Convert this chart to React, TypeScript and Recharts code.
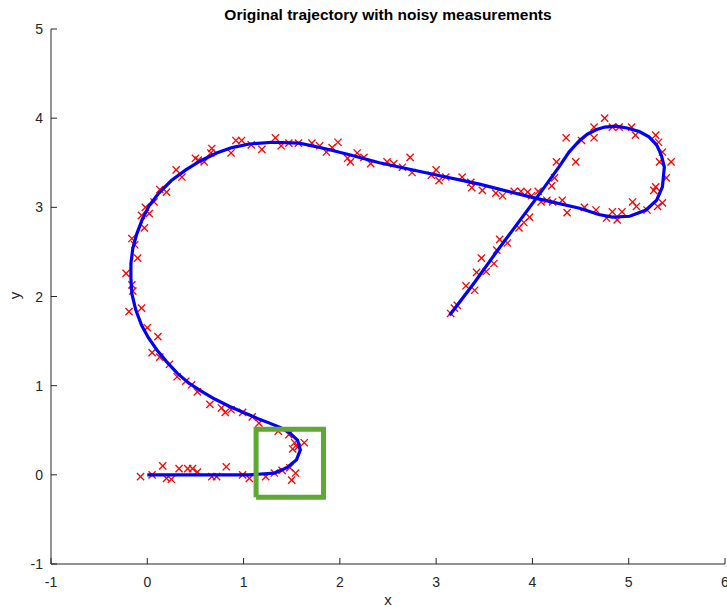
import React from 'react';
import { ScatterChart, Scatter, XAxis, YAxis } from 'recharts';

interface Pt {
  x: number;
  y: number;
}

const xTicks = [-1, 0, 1, 2, 3, 4, 5, 6];
const yTicks = [-1, 0, 1, 2, 3, 4, 5];

// true path (blue)
const trajectory: Pt[] = [
  { x: 0, y: 0 }, { x: 0.54, y: 0 }, { x: 1.06, y: 0 }, { x: 1.32, y: 0.02 },
  { x: 1.45, y: 0.08 }, { x: 1.55, y: 0.17 }, { x: 1.59, y: 0.28 }, { x: 1.56, y: 0.39 },
  { x: 1.47, y: 0.48 }, { x: 1.38, y: 0.53 }, { x: 1.27, y: 0.58 }, { x: 1.15, y: 0.63 },
  { x: 1.0, y: 0.7 }, { x: 0.85, y: 0.77 }, { x: 0.7, y: 0.85 }, { x: 0.56, y: 0.94 },
  { x: 0.43, y: 1.03 }, { x: 0.31, y: 1.14 }, { x: 0.2, y: 1.27 }, { x: 0.1, y: 1.4 },
  { x: 0.01, y: 1.54 }, { x: -0.06, y: 1.68 }, { x: -0.12, y: 1.85 }, { x: -0.16, y: 2.03 },
  { x: -0.17, y: 2.2 }, { x: -0.17, y: 2.37 }, { x: -0.15, y: 2.54 }, { x: -0.11, y: 2.7 },
  { x: -0.05, y: 2.87 }, { x: 0.02, y: 3.02 }, { x: 0.12, y: 3.16 }, { x: 0.25, y: 3.3 },
  { x: 0.4, y: 3.42 }, { x: 0.55, y: 3.52 }, { x: 0.72, y: 3.61 }, { x: 0.88, y: 3.67 },
  { x: 1.06, y: 3.71 }, { x: 1.3, y: 3.73 }, { x: 1.58, y: 3.72 }, { x: 1.84, y: 3.66 },
  { x: 2.1, y: 3.59 }, { x: 2.41, y: 3.5 }, { x: 2.93, y: 3.38 }, { x: 3.45, y: 3.26 },
  { x: 4.04, y: 3.1 }, { x: 4.49, y: 2.99 }, { x: 4.69, y: 2.92 }, { x: 4.83, y: 2.89 },
  { x: 5.01, y: 2.9 }, { x: 5.18, y: 2.97 }, { x: 5.29, y: 3.08 }, { x: 5.35, y: 3.23 },
  { x: 5.37, y: 3.45 }, { x: 5.34, y: 3.58 }, { x: 5.29, y: 3.7 }, { x: 5.21, y: 3.79 },
  { x: 5.11, y: 3.85 }, { x: 4.98, y: 3.89 }, { x: 4.87, y: 3.91 }, { x: 4.75, y: 3.9 },
  { x: 4.66, y: 3.87 }, { x: 4.57, y: 3.82 }, { x: 4.49, y: 3.75 }, { x: 4.38, y: 3.62 },
  { x: 4.28, y: 3.46 }, { x: 4.04, y: 3.1 }, { x: 3.66, y: 2.55 }, { x: 3.4, y: 2.16 },
  { x: 3.14, y: 1.79 },
];

// noisy measurements (red x)
const measurements: Pt[] = [
  { x: -0.07, y: -0.02 }, { x: 0.05, y: 0 }, { x: 0.16, y: 0.1 }, { x: 0.2, y: -0.04 },
  { x: 0.25, y: -0.05 }, { x: 0.33, y: 0.07 }, { x: 0.42, y: 0.07 }, { x: 0.47, y: 0.07 },
  { x: 0.52, y: 0.03 }, { x: 0.67, y: -0.02 }, { x: 0.72, y: -0.02 }, { x: 0.82, y: 0.09 },
  { x: 0.99, y: 0 }, { x: 1.06, y: -0.04 }, { x: 1.23, y: -0.02 }, { x: 1.32, y: 0.02 },
  { x: 1.4, y: 0.05 }, { x: 1.48, y: 0.08 }, { x: 1.54, y: 0.02 }, { x: 1.5, y: -0.06 },
  { x: 1.51, y: 0.29 }, { x: 1.56, y: 0.31 }, { x: 1.53, y: 0.36 }, { x: 1.63, y: 0.36 },
  { x: 1.47, y: 0.45 }, { x: 1.36, y: 0.49 }, { x: 1.16, y: 0.58 }, { x: 1.09, y: 0.65 },
  { x: 0.99, y: 0.7 }, { x: 0.87, y: 0.73 }, { x: 0.81, y: 0.7 }, { x: 0.77, y: 0.75 },
  { x: 0.65, y: 0.79 }, { x: 0.52, y: 0.93 }, { x: 0.46, y: 1.01 }, { x: 0.4, y: 1.05 },
  { x: 0.31, y: 1.1 }, { x: 0.23, y: 1.24 }, { x: 0.13, y: 1.32 }, { x: 0.05, y: 1.37 },
  { x: 0.11, y: 1.55 }, { x: 0, y: 1.65 }, { x: -0.06, y: 1.87 }, { x: -0.19, y: 1.83 },
  { x: -0.15, y: 2.06 }, { x: -0.16, y: 2.13 }, { x: -0.22, y: 2.26 }, { x: -0.1, y: 2.43 },
  { x: -0.13, y: 2.58 }, { x: -0.16, y: 2.65 }, { x: -0.03, y: 2.77 }, { x: -0.06, y: 2.91 },
  { x: 0.02, y: 2.93 }, { x: -0.02, y: 3 }, { x: 0.07, y: 3.06 }, { x: 0.13, y: 3.2 },
  { x: 0.2, y: 3.17 }, { x: 0.3, y: 3.42 }, { x: 0.36, y: 3.34 }, { x: 0.5, y: 3.55 },
  { x: 0.53, y: 3.53 }, { x: 0.59, y: 3.51 }, { x: 0.66, y: 3.61 }, { x: 0.67, y: 3.66 },
  { x: 0.87, y: 3.61 }, { x: 0.92, y: 3.75 }, { x: 0.98, y: 3.75 }, { x: 1.08, y: 3.7 },
  { x: 1.19, y: 3.65 }, { x: 1.33, y: 3.78 }, { x: 1.39, y: 3.69 }, { x: 1.47, y: 3.72 },
  { x: 1.57, y: 3.72 }, { x: 1.71, y: 3.72 }, { x: 1.79, y: 3.69 }, { x: 1.86, y: 3.62 },
  { x: 1.92, y: 3.67 }, { x: 1.98, y: 3.73 }, { x: 2.08, y: 3.55 }, { x: 2.11, y: 3.51 },
  { x: 2.18, y: 3.61 }, { x: 2.25, y: 3.56 }, { x: 2.32, y: 3.49 }, { x: 2.49, y: 3.51 },
  { x: 2.56, y: 3.49 }, { x: 2.73, y: 3.56 }, { x: 2.65, y: 3.45 }, { x: 2.75, y: 3.39 },
  { x: 2.95, y: 3.36 }, { x: 3, y: 3.42 }, { x: 3.03, y: 3.3 }, { x: 3.1, y: 3.34 },
  { x: 3.27, y: 3.34 }, { x: 3.36, y: 3.28 }, { x: 3.37, y: 3.22 }, { x: 3.48, y: 3.19 },
  { x: 3.62, y: 3.16 }, { x: 3.69, y: 3.13 }, { x: 3.81, y: 3.18 }, { x: 3.88, y: 3.18 },
  { x: 3.95, y: 3.17 }, { x: 3.99, y: 3.13 }, { x: 4.06, y: 3.18 }, { x: 4.09, y: 3.06 },
  { x: 4.15, y: 3.08 }, { x: 4.21, y: 3.06 }, { x: 4.31, y: 3.08 }, { x: 4.36, y: 2.94 },
  { x: 4.66, y: 2.97 }, { x: 4.54, y: 3 }, { x: 4.77, y: 2.88 }, { x: 4.83, y: 2.95 },
  { x: 4.88, y: 2.86 }, { x: 4.93, y: 2.95 }, { x: 5.04, y: 3.06 }, { x: 5.08, y: 3.01 },
  { x: 5.19, y: 2.97 }, { x: 5.3, y: 3.01 }, { x: 5.35, y: 3.05 }, { x: 5.26, y: 3.19 },
  { x: 5.28, y: 3.23 }, { x: 5.39, y: 3.33 }, { x: 5.32, y: 3.51 }, { x: 5.44, y: 3.51 },
  { x: 5.35, y: 3.62 }, { x: 5.31, y: 3.73 }, { x: 5.28, y: 3.81 }, { x: 5.07, y: 3.81 },
  { x: 5.03, y: 3.9 }, { x: 4.9, y: 3.9 }, { x: 4.83, y: 3.9 }, { x: 4.75, y: 4 },
  { x: 4.64, y: 3.9 }, { x: 4.64, y: 3.78 }, { x: 4.51, y: 3.75 }, { x: 4.35, y: 3.78 },
  { x: 4.45, y: 3.51 }, { x: 4.25, y: 3.51 }, { x: 4.23, y: 3.33 }, { x: 4.2, y: 3.24 },
  { x: 3.97, y: 2.89 }, { x: 3.91, y: 2.83 }, { x: 3.86, y: 2.77 }, { x: 3.66, y: 2.64 },
  { x: 3.74, y: 2.6 }, { x: 3.63, y: 2.52 }, { x: 3.47, y: 2.43 }, { x: 3.6, y: 2.37 },
  { x: 3.42, y: 2.27 }, { x: 3.52, y: 2.28 }, { x: 3.31, y: 2.12 }, { x: 3.4, y: 2.07 },
  { x: 3.22, y: 1.9 }, { x: 3.19, y: 1.87 }, { x: 3.15, y: 1.81 },
];

// green highlight box
const highlightBox: Pt[] = [
  { x: 1.13, y: -0.25 }, { x: 1.83, y: -0.25 }, { x: 1.83, y: 0.51 },
  { x: 1.13, y: 0.51 }, { x: 1.13, y: -0.25 },
];

const FONT = '"Liberation Sans", Arial, Helvetica, sans-serif';
const AXIS = '#262626';

const Cross = (props: any) => {
  const { cx, cy } = props;
  const r = 3.6;
  return (
    <g stroke="#ff0000" strokeWidth={1.3}>
      <line x1={cx - r} y1={cy - r} x2={cx + r} y2={cy + r} />
      <line x1={cx - r} y1={cy + r} x2={cx + r} y2={cy - r} />
    </g>
  );
};

const NoDot = () => <g />;

const XTick = (props: any) => {
  const { x, y, payload } = props;
  return (
    <g>
      <line x1={x} y1={y} x2={x} y2={y - 6} stroke={AXIS} strokeWidth={1} />
      <text x={x} y={y + 23} textAnchor="middle" fill={AXIS} fontSize={14} fontFamily={FONT}>
        {payload.value}
      </text>
    </g>
  );
};

const YTick = (props: any) => {
  const { x, y, payload } = props;
  return (
    <g>
      <line x1={x} y1={y} x2={x + 6} y2={y} stroke={AXIS} strokeWidth={1} />
      <text x={x - 8} y={y + 5} textAnchor="end" fill={AXIS} fontSize={14} fontFamily={FONT}>
        {payload.value}
      </text>
    </g>
  );
};

export default function App() {
  return (
    <div style={{ position: 'absolute', left: 0, top: 0, width: 727, height: 607, background: '#fff' }}>
      <div
        style={{
          position: 'absolute', left: 51, width: 674, top: 6, textAlign: 'center',
          fontFamily: FONT, fontWeight: 'bold', fontSize: 15.5, color: '#000',
        }}
      >
        Original trajectory with noisy measurements
      </div>
      <div
        style={{
          position: 'absolute', left: 0, width: 776, top: 591, textAlign: 'center',
          fontFamily: FONT, fontSize: 15, color: AXIS,
        }}
      >
        x
      </div>
      <div
        style={{
          position: 'absolute', left: 11, top: 287, fontFamily: FONT, fontSize: 15, color: AXIS,
          transform: 'rotate(-90deg)', transformOrigin: 'center',
        }}
      >
        y
      </div>
      <ScatterChart width={727} height={607} margin={{ top: 29, right: 2, bottom: 0, left: 0 }}>
        <XAxis
          type="number"
          dataKey="x"
          domain={[-1, 6]}
          ticks={xTicks}
          allowDataOverflow
          height={43}
          tickSize={0}
          tickMargin={0}
          tickLine={false}
          tick={<XTick />}
          stroke={AXIS}
          interval={0}
        />
        <YAxis
          type="number"
          dataKey="y"
          domain={[-1, 5]}
          ticks={yTicks}
          allowDataOverflow
          width={51}
          tickSize={0}
          tickMargin={0}
          tickLine={false}
          tick={<YTick />}
          stroke={AXIS}
          interval={0}
        />
        <Scatter data={measurements} shape={<Cross />} isAnimationActive={false} />
        <Scatter
          data={trajectory}
          shape={<NoDot />}
          line={{ stroke: '#0000ff', strokeWidth: 3.2, fill: 'none' }}
          lineType="joint"
          isAnimationActive={false}
        />
        <Scatter
          data={highlightBox}
          shape={<NoDot />}
          line={{ stroke: '#5fa834', strokeWidth: 5, fill: 'none' }}
          lineType="joint"
          isAnimationActive={false}
        />
      </ScatterChart>
    </div>
  );
}
